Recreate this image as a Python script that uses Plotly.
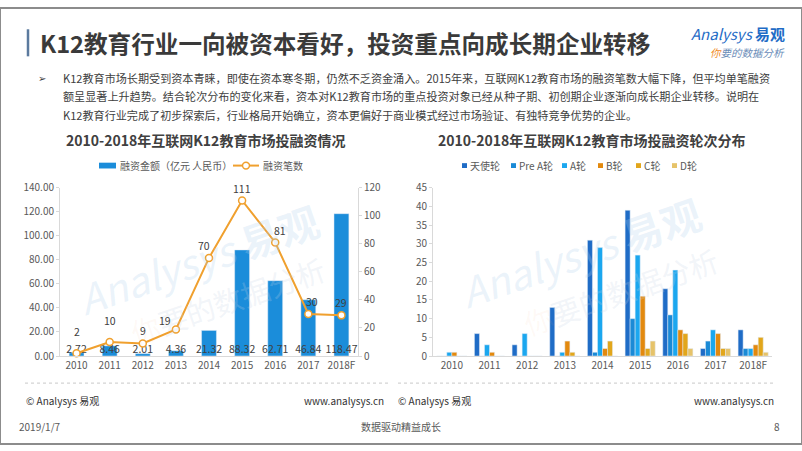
import plotly.graph_objects as go

W, H = 802, 451
FONT = "Noto Sans CJK SC"

# ---------------- data ----------------
years = ["2010", "2011", "2012", "2013", "2014", "2015", "2016", "2017", "2018F"]
amount = [2.72, 8.46, 2.01, 4.36, 21.32, 88.32, 62.71, 46.84, 118.47]   # 融资金额（亿元 人民币）
deals = [2, 10, 9, 19, 70, 111, 81, 30, 29]                             # 融资笔数

rounds = ["天使轮", "Pre A轮", "A轮", "B轮", "C轮", "D轮"]
angel = [0, 6, 3, 13, 31, 39, 18, 2, 7]
pre_a = [0, 0, 0, 0, 1, 10, 11, 4, 2]
round_a = [1, 3, 6, 1, 29, 27, 23, 7, 2]
round_b = [1, 1, 0, 4, 2, 16, 7, 6, 3]
round_c = [0, 0, 0, 1, 4, 2, 6, 2, 5]
round_d = [0, 0, 0, 0, 0, 4, 2, 2, 1]
round_values = [angel, pre_a, round_a, round_b, round_c, round_d]
round_colors = ["#1F6CC6", "#1A8AD6", "#1BA7EF", "#E3890E", "#E2A61B", "#E6C36A"]

# label offsets for line data labels (px) – styling only
deal_yshift = [22, 22, 13, 9, 12, 12, 12, 12, 13]
deal_xshift = [0, 0, 0, -11, -5, 0, 5, 4, 0]

BAR_BLUE = "#1B8DDA"
ORANGE = "#F0A02E"
AXIS = "#D9D9D9"
TXT = "#404040"


def px(x):
    return x / W


def py(y):
    return 1 - y / H


fig = go.Figure()

# ---------------- left chart ----------------
fig.add_trace(go.Bar(
    x=years, y=amount, name="融资金额（亿元 人民币）",
    marker_color=BAR_BLUE, width=0.45, offset=-0.225,
    xaxis="x", yaxis="y", showlegend=False,
))
fig.add_trace(go.Scatter(
    x=years, y=[0] * len(years), mode="text",
    text=[f"{v:.2f}" for v in amount], textposition="top center",
    textfont=dict(family=FONT, size=10.5, color=TXT),
    xaxis="x", yaxis="y", showlegend=False, cliponaxis=False, hoverinfo="skip",
))
fig.add_trace(go.Scatter(
    x=years, y=deals, name="融资笔数", mode="lines+markers",
    line=dict(color=ORANGE, width=2),
    marker=dict(size=7, color="white", line=dict(color=ORANGE, width=1.5)),
    xaxis="x", yaxis="y2", showlegend=False, cliponaxis=False,
))

annotations = []


def ann(text, x, y, size=11, color=TXT, xanchor="left", bold=False, **kw):
    t = f"<b>{text}</b>" if bold else text
    annotations.append(dict(
        text=t, x=px(x), y=py(y), xref="paper", yref="paper",
        xanchor=xanchor, yanchor="middle", showarrow=False,
        font=dict(family=FONT, size=size, color=color), **kw,
    ))


# watermarks (drawn first so later texts sit on top)
for (wx, wy), (sx, sy) in [((198, 260), (227, 302)), ((580, 252), (620, 293))]:
    annotations.append(dict(
        text="<i>Analysys</i> <b>易观</b>", x=px(wx), y=py(wy), xref="paper", yref="paper",
        xanchor="center", yanchor="middle", showarrow=False, textangle=-19,
        font=dict(family=FONT, size=40, color="rgba(175,208,236,0.26)"),
    ))
    annotations.append(dict(
        text="<span style='color:rgba(240,170,120,0.28)'>你</span>要的数据分析", x=px(sx), y=py(sy),
        xref="paper", yref="paper", xanchor="center", yanchor="middle",
        showarrow=False, textangle=-19,
        font=dict(family=FONT, size=29, color="rgba(200,212,228,0.24)"),
    ))

# line data labels: category axis annotations use the category index
for i, (d, ys, xs) in enumerate(zip(deals, deal_yshift, deal_xshift)):
    annotations.append(dict(
        x=i, y=d, xref="x", yref="y2", text=str(d), showarrow=False,
        yshift=ys, xshift=xs, font=dict(family=FONT, size=10.5, color=TXT),
    ))

# ---------------- right chart ----------------
for name, vals, col in zip(rounds, round_values, round_colors):
    fig.add_trace(go.Bar(
        x=years, y=vals, name=name, marker_color=col,
        xaxis="x3", yaxis="y3", showlegend=False,
    ))

# ---------------- axes ----------------
tickfont = dict(family=FONT, size=10, color="#595959")
ydom = [py(360), py(186)]
fig.update_layout(
    width=W, height=H,
    margin=dict(l=0, r=0, t=0, b=0),
    paper_bgcolor="white", plot_bgcolor="white",
    barmode="group", bargap=0.2, bargroupgap=0,
    xaxis=dict(domain=[px(60), px(358)], anchor="y", type="category",
               range=[-0.5, len(years) - 0.5],
               tickfont=tickfont, showline=True, linecolor=AXIS, ticks="",
               showgrid=False),
    yaxis=dict(domain=ydom, anchor="x", range=[0, 140], dtick=20, tickformat=".2f",
               tickfont=tickfont, showline=True, linecolor=AXIS, showgrid=False,
               zeroline=False, ticks="outside", ticklen=3, tickcolor=AXIS),
    yaxis2=dict(overlaying="y", side="right", anchor="x", range=[0, 120], dtick=20,
                tickfont=tickfont, showline=True, linecolor=AXIS, showgrid=False,
                zeroline=False, ticks="outside", ticklen=3, tickcolor=AXIS),
    xaxis3=dict(domain=[px(433), px(772)], anchor="y3", type="category",
                tickfont=tickfont, showline=True, linecolor=AXIS, ticks="",
                showgrid=False),
    yaxis3=dict(domain=ydom, anchor="x3", range=[0, 45], dtick=5,
                tickfont=tickfont, showline=True, linecolor=AXIS, showgrid=False,
                zeroline=False, ticks="outside", ticklen=3, tickcolor=AXIS),
    showlegend=False,
)

# page title
ann("K12教育行业一向被资本看好，投资重点向成长期企业转移", 38, 36, size=23.6, color="#3A3A3A", bold=True)
# logo
ann("<i>Analysys</i> <b>易观</b>", 787, 26, size=15, color="#1F6CC6", xanchor="right")
ann("<i><span style='color:#F08A24'>你</span>要的数据分析</i>", 787, 46, size=10.5, color="#6A8CB8", xanchor="right")

# paragraph
ann("➢", 36, 72, size=10, color=TXT)
para = [
    "K12教育市场长期受到资本青睐，即使在资本寒冬期，仍然不乏资金涌入。2015年来，互联网K12教育市场的融资笔数大幅下降，但平均单笔融资",
    "额呈显著上升趋势。结合轮次分布的变化来看，资本对K12教育市场的重点投资对象已经从种子期、初创期企业逐渐向成长期企业转移。说明在",
    "K12教育行业完成了初步探索后，行业格局开始确立，资本更偏好于商业模式经过市场验证、有独特竞争优势的企业。",
]
for i, line in enumerate(para):
    ann(line, 61, 72 + 19.5 * i, size=11.1, color=TXT)

# chart titles
ann("2010-2018年互联网K12教育市场投融资情况", 205, 137, size=14, color=TXT, xanchor="center", bold=True)
ann("2010-2018年互联网K12教育市场投融资轮次分布", 591, 137, size=14, color=TXT, xanchor="center", bold=True)

shapes = []
# left legend (drawn)
shapes.append(dict(type="rect", xref="paper", yref="paper", x0=px(99), x1=px(116),
                   y0=py(166), y1=py(160), fillcolor=BAR_BLUE, line_width=0))
ann("融资金额（亿元 人民币）", 118, 163, size=10, color="#595959")
shapes.append(dict(type="line", xref="paper", yref="paper", x0=px(233), x1=px(259),
                   y0=py(163), y1=py(163), line=dict(color=ORANGE, width=2)))
shapes.append(dict(type="circle", xref="paper", yref="paper", x0=px(242.5), x1=px(249.5),
                   y0=py(166.5), y1=py(159.5), fillcolor="white", line=dict(color=ORANGE, width=1.5)))
ann("融资笔数", 261, 163, size=10, color="#595959")

# right legend (drawn)
legend_x = [462, 511, 562, 598, 636, 672]
for name, col, lx in zip(rounds, round_colors, legend_x):
    shapes.append(dict(type="rect", xref="paper", yref="paper", x0=px(lx), x1=px(lx + 5),
                       y0=py(165.5), y1=py(160.5), fillcolor=col, line_width=0))
    ann(name, lx + 6, 163, size=10, color="#595959")

# separators and footer
shapes.append(dict(type="line", xref="paper", yref="paper", x0=px(25), x1=px(389),
                   y0=py(388), y1=py(388), line=dict(color="#C8C8C8", width=1, dash="dot")))
shapes.append(dict(type="line", xref="paper", yref="paper", x0=px(398), x1=px(775),
                   y0=py(388), y1=py(388), line=dict(color="#C8C8C8", width=1, dash="dot")))
ann("© Analysys 易观", 24, 406, size=10, color="#333333")
ann("www.analysys.cn", 386, 406, size=10, color="#333333", xanchor="right")
ann("© Analysys 易观", 396, 406, size=10, color="#333333")
ann("www.analysys.cn", 776, 406, size=10, color="#333333", xanchor="right")
ann("2019/1/7", 17, 433, size=10, color="#595959")
ann("数据驱动精益成长", 401, 433, size=10, color="#595959", xanchor="center")
ann("8", 782, 433, size=10, color="#595959", xanchor="right")

# title accent bar and page border
shapes.append(dict(type="line", xref="paper", yref="paper", x0=px(28), x1=px(28),
                   y0=py(22), y1=py(50), line=dict(color="#5B7A9E", width=2.5)))
shapes.append(dict(type="rect", xref="paper", yref="paper", x0=0, x1=1, y0=0, y1=1,
                   line=dict(color="#8C8C8C", width=2), fillcolor="rgba(0,0,0,0)"))

fig.update_layout(annotations=annotations, shapes=shapes)
fig.write_html("out.html")
